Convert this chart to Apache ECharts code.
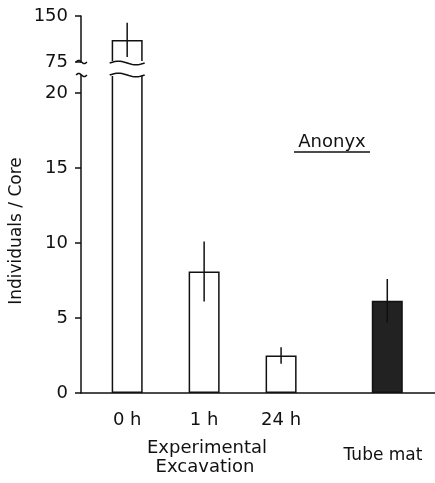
<!DOCTYPE html>
<html>
<head>
<meta charset="utf-8">
<script src="https://cdn.jsdelivr.net/npm/echarts@6/dist/echarts.min.js"></script>
<style>
  html, body { margin: 0; padding: 0; background: #fff; }
  #main { width: 435px; height: 483px; }
</style>
</head>
<body>
<div id="main"></div>
<script>
// data
var categories = ['0 h', '1 h', '24 h', 'Tube mat'];
var means = [111, 8.1, 2.5, 6.15];
var errors = [28, 2.0, 0.55, 1.45];
var lowTicks = [0, 5, 10, 15, 20];
var highTicks = [75, 150];

// where each group sits on the x scale (tube mat stands apart)
var slotPos = [1, 2, 3, 4.38];

var FONT = 'DejaVu Sans';
var INK = '#111';

var dom = document.getElementById('main');
var myChart = echarts.init(dom);

function barData() {
  return means.map(function (v, i) {
    return {
      value: [slotPos[i], v],
      itemStyle: i === 3 ? { color: '#222', borderColor: INK } : { color: '#fff', borderColor: INK }
    };
  });
}
function errData() {
  return means.map(function (v, i) {
    return [slotPos[i], v - errors[i], v + errors[i]];
  });
}
function errRender(params, api) {
  var lo = api.coord([api.value(0), api.value(1)]);
  var hi = api.coord([api.value(0), api.value(2)]);
  return {
    type: 'line',
    shape: { x1: lo[0], y1: lo[1], x2: hi[0], y2: hi[1] },
    style: { stroke: INK, lineWidth: 1.5 }
  };
}

var option = {
  animation: false,
  textStyle: { fontFamily: FONT, color: INK },
  grid: [
    { left: 81, right: 0, top: 16, height: 46 },
    { left: 81, right: 0, top: 75, bottom: 90 }
  ],
  xAxis: [
    { gridIndex: 0, type: 'value', min: 0.4, max: 5, show: false },
    {
      gridIndex: 1, type: 'value', min: 0.4, max: 5,
      splitLine: { show: false },
      axisTick: { show: false },
      axisLine: { lineStyle: { color: INK, width: 1.5 } },
      axisLabel: {
        customValues: [slotPos[0], slotPos[1], slotPos[2]],
        formatter: function (v) { return categories[slotPos.indexOf(v)]; },
        margin: 18, fontSize: 18, color: INK, fontFamily: FONT
      }
    }
  ],
  yAxis: [
    {
      gridIndex: 0, type: 'value', min: 75, max: 150, interval: 75,
      splitLine: { show: false },
      axisLine: { show: true, lineStyle: { color: INK, width: 1.5 } },
      axisTick: { show: true, length: 6, lineStyle: { color: INK, width: 1.5 } },
      axisLabel: { customValues: highTicks, margin: 13, fontSize: 18, color: INK, fontFamily: FONT }
    },
    {
      gridIndex: 1, type: 'value', min: 0, max: 21.2, interval: 5,
      splitLine: { show: false },
      axisLine: { show: true, lineStyle: { color: INK, width: 1.5 } },
      axisTick: { show: true, length: 6, customValues: lowTicks, lineStyle: { color: INK, width: 1.5 } },
      axisLabel: { customValues: lowTicks, margin: 13, fontSize: 18, color: INK, fontFamily: FONT }
    }
  ],
  series: [
    { type: 'bar', xAxisIndex: 0, yAxisIndex: 0, barWidth: 31, clip: true, data: barData(),
      itemStyle: { borderWidth: 1.5 } },
    { type: 'bar', xAxisIndex: 1, yAxisIndex: 1, barWidth: 31, clip: true, data: barData(),
      itemStyle: { borderWidth: 1.5 } },
    { type: 'custom', xAxisIndex: 0, yAxisIndex: 0, clip: true, renderItem: errRender, data: errData(), z: 5 },
    { type: 'custom', xAxisIndex: 1, yAxisIndex: 1, clip: true, renderItem: errRender, data: errData(), z: 5 }
  ]
};
myChart.setOption(option, true);

// break marks on the axis and on the 0 h bar
function wave(x0, x1, y, amp) {
  var pts = [];
  for (var k = 0; k <= 20; k++) {
    var t = k / 20;
    pts.push([x0 + (x1 - x0) * t, y - amp * Math.sin(t * Math.PI * 2)]);
  }
  return pts;
}
var c0 = myChart.convertToPixel({ gridIndex: 1 }, [slotPos[0], 0]);
var bx0 = c0[0] - 15.5, bx1 = c0[0] + 15.5;
var axX = 81;
var topBreak = 63, lowBreak = 75;
var lineStyle = { stroke: INK, lineWidth: 1.5, fill: null };
function label(txt, x, y, size) {
  return { type: 'text', x: x, y: y, z: 101,
    style: { text: txt, font: size + 'px "' + FONT + '"', fill: INK, textAlign: 'center', textVerticalAlign: 'middle' } };
}

var yName = label('Individuals / Core', 17, 231, 17);
yName.rotation = Math.PI / 2;

myChart.setOption({
  graphic: [
    { type: 'rect', shape: { x: bx0 - 3, y: topBreak - 2, width: bx1 - bx0 + 6, height: lowBreak - topBreak + 3 },
      style: { fill: '#fff' }, z: 100 },
    { type: 'polyline', shape: { points: wave(bx0 - 2, bx1 + 2, topBreak, 1.8) }, style: lineStyle, z: 101 },
    { type: 'polyline', shape: { points: wave(bx0 - 2, bx1 + 2, lowBreak, 1.8) }, style: lineStyle, z: 101 },
    { type: 'polyline', shape: { points: wave(axX - 5, axX + 6, topBreak - 1, 1.5) }, style: lineStyle, z: 101 },
    { type: 'polyline', shape: { points: wave(axX - 5, axX + 6, lowBreak, 1.5) }, style: lineStyle, z: 101 },
    label('Anonyx', 332, 142, 18),
    { type: 'line', shape: { x1: 294, y1: 152, x2: 370, y2: 152 }, style: { stroke: INK, lineWidth: 1.5 }, z: 101 },
    label('Experimental', 207, 448, 18),
    label('Excavation', 205, 467, 18),
    label(categories[3], 383, 456, 17),
    yName
  ]
});
</script>
</body>
</html>
